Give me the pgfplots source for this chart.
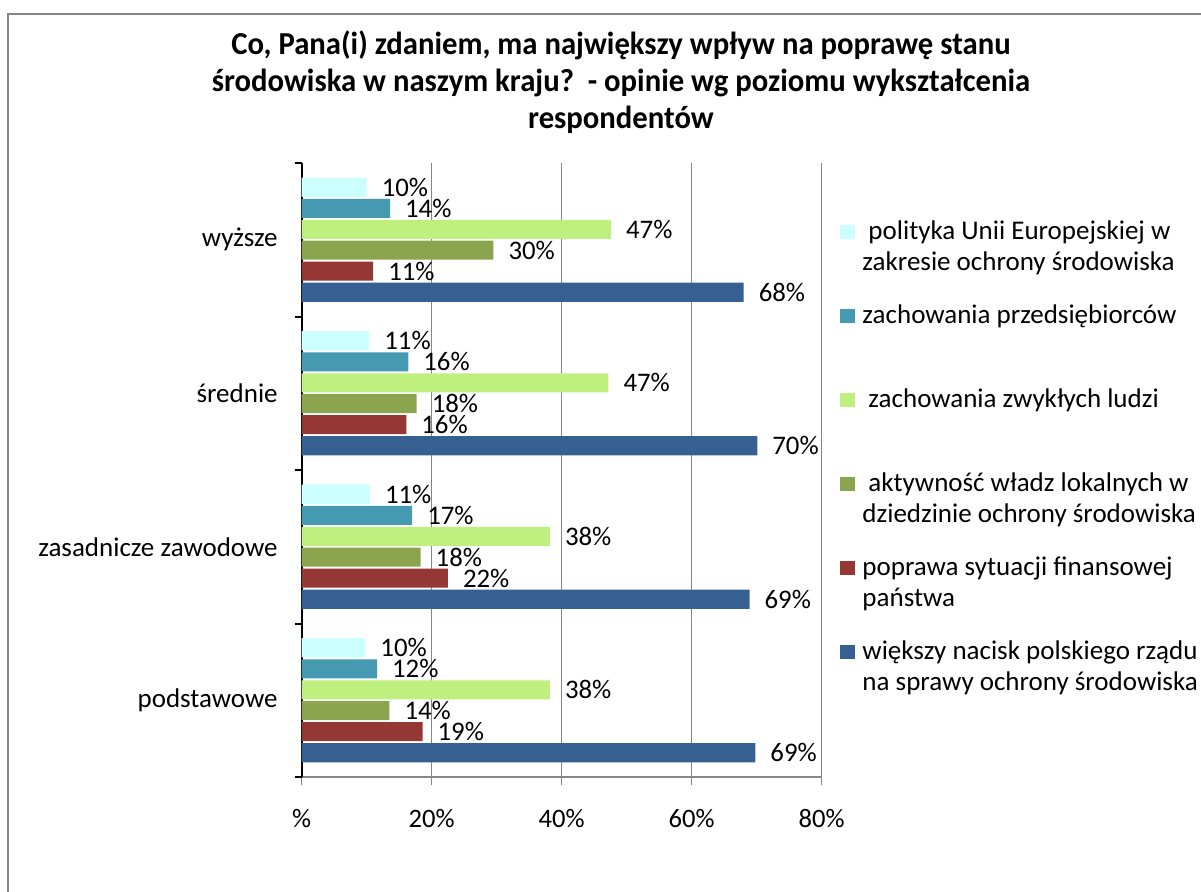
\documentclass[border=0pt]{standalone}
\usepackage{pgfplots}
\pgfplotsset{compat=1.18}
\usepackage{fontspec}
\setmainfont{Carlito}
\newfontfamily\titlefont[FakeStretch=0.96]{Carlito}

\definecolor{cUE}{HTML}{CCFFFF}
\definecolor{cPrz}{HTML}{4599B0}
\definecolor{cLud}{HTML}{BFF07F}
\definecolor{cWl}{HTML}{8AA54E}
\definecolor{cFin}{HTML}{953735}
\definecolor{cRz}{HTML}{376092}
\definecolor{gridgray}{HTML}{868686}

\newcommand{\lbl}[1]{\parbox[t]{180pt}{#1}}

\begin{document}
\begin{tikzpicture}
    % 1 px of the reference = 0.5pt
    \useasboundingbox (-150.85pt,-57pt) rectangle (449.65pt,388.5pt);
    \draw[gridgray, line width=0.8pt] (-146.85pt,-70pt) -- (-146.85pt,381.5pt) -- (470pt,381.5pt);

    \begin{axis}[
            at={(0pt,0pt)},
            anchor=south west,
            width=260pt,
            height=307pt,
            scale only axis,
            xmin=0, xmax=80,
            ymin=-0.5, ymax=3.5,
            axis x line*=bottom,
            axis y line*=left,
            axis line style={-},
            x axis line style={gridgray, line width=0.8pt},
            y axis line style={black, line width=1pt},
            xtick={0,20,40,60,80},
            xticklabels={\%,20\%,40\%,60\%,80\%},
            xmajorgrids,
            grid style={gridgray, line width=0.8pt},
            xtick align=outside,
            major x tick style={gridgray, line width=0.8pt},
            major tick length=4pt,
            ytick={0,1,2,3},
            yticklabels={podstawowe, zasadnicze zawodowe, średnie, wyższe},
            major y tick style={draw=none},
            minor ytick={-0.5,0.5,1.5,2.5,3.5},
            minor y tick style={black, line width=1pt},
            minor tick length=3.5pt,
            ytick align=inside,
            xticklabel style={yshift=-8.5pt, font=\fontsize{13.3}{15.5}\selectfont},
            yticklabel style={xshift=-4.5pt, font=\fontsize{13.5}{16}\selectfont},
            xbar,
            bar width=0.124,
            point meta=explicit symbolic,
            nodes near coords={\pgfplotspointmeta\%},
            every node near coord/.append style={
                anchor=west,
                xshift=4pt,
                text=black,
                font=\fontsize{13.4}{15.5}\selectfont
            },
            clip=false,
            legend image code/.code={\fill[#1] (0pt,0.3pt) rectangle (7.5pt,7.3pt);},
            legend style={
                draw=none,
                fill=none,
                at={(1,1)},
                anchor=north west,
                xshift=9.2pt,
                yshift=-28pt,
                inner sep=0pt,
                row sep=0pt,
                column sep=3.5pt,
                cells={anchor=base west},
                nodes={inner sep=0pt, text height=10pt, text depth=32pt},
                font=\fontsize{13.5}{15.5}\selectfont
            }
        ]

        % polityka UE
        \addplot[fill=cUE, draw=none, bar shift=0.342]
        table[x=v, y=g, meta=l] {
            v    g  l
            10.0 3  10
            10.4 2  11
            10.5 1  11
            9.8  0  10
        };
        \addlegendentry{\lbl{\hspace{3pt}polityka Unii Europejskiej w\newline zakresie ochrony środowiska}}

        % przedsiebiorcy
        \addplot[fill=cPrz, draw=none, bar shift=0.205]
        table[x=v, y=g, meta=l] {
            v    g  l
            13.6 3  14
            16.4 2  16
            17.0 1  17
            11.6 0  12
        };
        \addlegendentry{\lbl{zachowania przedsiębiorców}}

        % zwykli ludzie
        \addplot[fill=cLud, draw=none, bar shift=0.068]
        table[x=v, y=g, meta=l] {
            v    g  l
            47.6 3  47
            47.2 2  47
            38.2 1  38
            38.2 0  38
        };
        \addlegendentry{\lbl{\hspace{3pt}zachowania zwykłych ludzi}}

        % wladze lokalne
        \addplot[fill=cWl, draw=none, bar shift=-0.068]
        table[x=v, y=g, meta=l] {
            v    g  l
            29.5 3  30
            17.7 2  18
            18.3 1  18
            13.5 0  14
        };
        \addlegendentry{\lbl{\hspace{3pt}aktywność władz lokalnych w\newline dziedzinie ochrony środowiska}}

        % finanse panstwa
        \addplot[fill=cFin, draw=none, bar shift=-0.205]
        table[x=v, y=g, meta=l] {
            v    g  l
            11.0 3  11
            16.1 2  16
            22.5 1  22
            18.6 0  19
        };
        \addlegendentry{\lbl{poprawa sytuacji finansowej\newline państwa}}

        % rzad
        \addplot[fill=cRz, draw=none, bar shift=-0.342]
        table[x=v, y=g, meta=l] {
            v    g  l
            68.0 3  68
            70.1 2  70
            68.9 1  69
            69.8 0  69
        };
        \addlegendentry{\lbl{większy nacisk polskiego rządu\newline na sprawy ochrony środowiska}}

    \end{axis}

    \node[font=\titlefont\bfseries\fontsize{16}{18.5}\selectfont, align=center]
        at (159.65pt,347.5pt)
        {Co, Pana(i) zdaniem, ma największy wpływ na poprawę stanu\\
         środowiska w naszym kraju?\ \ - opinie wg poziomu wykształcenia\\
         respondentów};
\end{tikzpicture}
\end{document}
